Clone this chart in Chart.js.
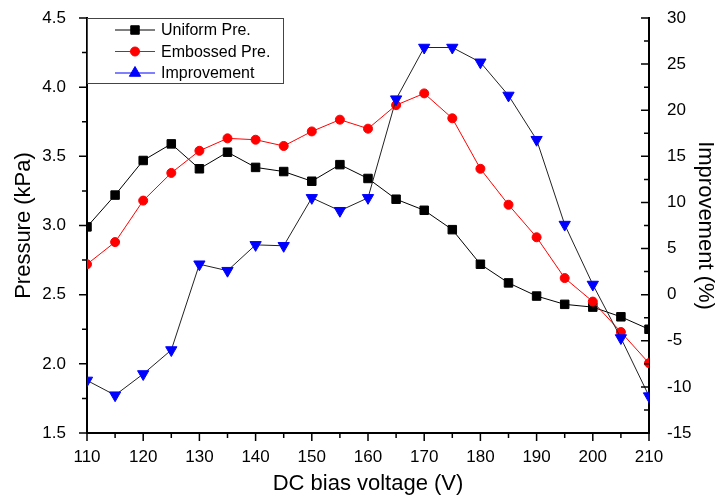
<!DOCTYPE html>
<html>
<head>
<meta charset="utf-8">
<script src="https://cdn.jsdelivr.net/npm/chart.js@4.4.1/dist/chart.umd.min.js"></script>
<style>
  body { margin: 0; background: #fff; }
</style>
</head>
<body>
<canvas id="chart" width="716" height="498"></canvas>
<script>
// ---- data ----
const voltages = [110, 115, 120, 125, 130, 135, 140, 145, 150, 155, 160,
                  165, 170, 175, 180, 185, 190, 195, 200, 205, 210];
const uniformPre = [2.99, 3.22, 3.47, 3.59, 3.41, 3.53, 3.42, 3.39, 3.32, 3.44, 3.34,
                    3.19, 3.11, 2.97, 2.72, 2.585, 2.49, 2.43, 2.41, 2.34, 2.25];
const embossedPre = [2.72, 2.88, 3.18, 3.38, 3.54, 3.63, 3.62, 3.575, 3.68, 3.765, 3.70,
                     3.87, 3.955, 3.775, 3.41, 3.15, 2.915, 2.62, 2.45, 2.23, 2.005];
const improvement = [-9.3, -10.9, -8.6, -6.0, 3.3, 2.6, 5.4, 5.3, 10.5, 9.1, 10.5,
                     21.2, 26.8, 26.8, 25.2, 21.6, 16.8, 7.6, 1.1, -4.7, -11.0];

const pairs = ys => voltages.map((v, i) => ({ x: v, y: ys[i] }));

// tick marks: long at labelled ticks, short in between
const tickMarks = {
  id: 'tickMarks',
  afterDraw(chart) {
    const ctx = chart.ctx;
    ctx.save();
    ctx.strokeStyle = '#000';
    ctx.lineWidth = 1.5;
    const { x, y, y1 } = chart.scales;
    ctx.beginPath();
    x.ticks.forEach(t => {
      const p = x.getPixelForValue(t.value);
      const len = t.label !== '' ? 8 : 5;
      ctx.moveTo(p, x.top); ctx.lineTo(p, x.top + len);
    });
    y.ticks.forEach(t => {
      const p = y.getPixelForValue(t.value);
      const len = t.label !== '' ? 8 : 5;
      ctx.moveTo(y.right, p); ctx.lineTo(y.right - len, p);
    });
    y1.ticks.forEach(t => {
      const p = y1.getPixelForValue(t.value);
      const len = t.label !== '' ? 8 : 5;
      ctx.moveTo(y1.left, p); ctx.lineTo(y1.left - len, p);
    });
    ctx.stroke();
    ctx.restore();
  }
};

// boxed legend in the top left corner of the plot
const boxLegend = {
  id: 'boxLegend',
  afterDraw(chart) {
    const ctx = chart.ctx;
    const area = chart.chartArea;
    const left = area.left, top = area.top;
    ctx.save();
    ctx.fillStyle = '#fff';
    ctx.fillRect(left, top, 196, 65);
    ctx.strokeStyle = '#444';
    ctx.lineWidth = 1;
    ctx.strokeRect(left + 0.5, top + 0.5, 196, 65);
    const items = [
      { ds: 0, style: 'rect', rot: 0 },
      { ds: 1, style: 'circle', rot: 0 },
      { ds: 2, style: 'triangle', rot: 0, line: '#0000ff' }
    ];
    items.forEach((it, i) => {
      const d = chart.data.datasets[it.ds];
      const cy = top + 12 + i * 21.5;
      ctx.strokeStyle = it.line || d.borderColor;
      ctx.lineWidth = 1;
      ctx.beginPath();
      ctx.moveTo(left + 28, cy); ctx.lineTo(left + 68, cy);
      ctx.stroke();
      ctx.fillStyle = d.pointBackgroundColor;
      ctx.strokeStyle = d.pointBorderColor;
      Chart.helpers.drawPoint(ctx, {
        pointStyle: it.style, radius: d.pointRadius, rotation: it.rot, borderWidth: 1
      }, left + 48, cy);
      ctx.fillStyle = '#000';
      ctx.font = '16px "Liberation Sans", Arial, sans-serif';
      ctx.textBaseline = 'middle';
      ctx.fillText(d.label, left + 74, cy + 1);
    });
    ctx.restore();
  }
};

const tickFont = { family: '"Liberation Sans", Arial, sans-serif', size: 17 };
const titleFont = { family: '"Liberation Sans", Arial, sans-serif', size: 22 };

new Chart(document.getElementById('chart'), {
  type: 'line',
  data: {
    datasets: [
      {
        label: 'Uniform Pre.',
        data: pairs(uniformPre),
        yAxisID: 'y',
        borderColor: '#000',
        borderWidth: 1,
        pointStyle: 'rect',
        pointRadius: 6,
        pointBackgroundColor: '#000',
        pointBorderColor: '#000',
        pointBorderWidth: 1,
        order: 3
      },
      {
        label: 'Embossed Pre.',
        data: pairs(embossedPre),
        yAxisID: 'y',
        borderColor: '#ff0000',
        borderWidth: 1,
        pointStyle: 'circle',
        pointRadius: 4.5,
        pointBackgroundColor: '#ff0000',
        pointBorderColor: '#ff0000',
        pointBorderWidth: 1,
        order: 2
      },
      {
        label: 'Improvement',
        data: pairs(improvement),
        yAxisID: 'y1',
        borderColor: '#222',
        borderWidth: 1,
        pointStyle: 'triangle',
        pointRotation: 180,
        pointRadius: 6.5,
        pointBackgroundColor: '#0000ff',
        pointBorderColor: '#0000ff',
        pointBorderWidth: 1,
        order: 1
      }
    ]
  },
  options: {
    responsive: false,
    animation: false,
    layout: { padding: { top: 18, left: 0, right: 0, bottom: 0 } },
    plugins: {
      legend: { display: false },
      tooltip: { enabled: false }
    },
    scales: {
      x: {
        type: 'linear',
        position: 'bottom',
        min: 110,
        max: 210,
        grid: { display: false },
        border: { display: true, color: '#000', width: 2 },
        ticks: {
          stepSize: 5,
          autoSkip: false,
          maxRotation: 0,
          padding: 6,
          color: '#000',
          font: tickFont,
          callback: v => (v % 10 === 0 ? String(v) : '')
        },
        title: {
          display: true,
          text: 'DC bias voltage (V)',
          color: '#000',
          font: titleFont,
          padding: { top: 0, bottom: 1 }
        },
        afterFit: s => { s.height = 65; s.paddingLeft = 0; s.paddingRight = 0; }
      },
      y: {
        position: 'left',
        min: 1.5,
        max: 4.5,
        grid: { display: false },
        border: { display: true, color: '#000', width: 2 },
        ticks: {
          stepSize: 0.25,
          autoSkip: false,
          padding: 13,
          color: '#000',
          font: tickFont,
          callback: v => (Math.abs(v * 2 - Math.round(v * 2)) < 1e-6 ? v.toFixed(1) : '')
        },
        title: {
          display: true,
          text: 'Pressure (kPa)',
          color: '#000',
          font: titleFont,
          padding: { top: 11, bottom: 0 }
        },
        afterFit: s => { s.width = 87; s.paddingTop = 0; s.paddingBottom = 0; }
      },
      y1: {
        position: 'right',
        min: -15,
        max: 30,
        grid: { display: false },
        border: { display: true, color: '#000', width: 2 },
        ticks: {
          stepSize: 2.5,
          autoSkip: false,
          padding: 10,
          color: '#000',
          font: tickFont,
          callback: v => (v % 5 === 0 ? String(v) : '')
        },
        title: {
          display: true,
          text: 'Improvement (%)',
          color: '#000',
          font: titleFont,
          padding: { top: -2, bottom: 0 }
        },
        afterFit: s => { s.width = 67; s.paddingTop = 0; s.paddingBottom = 0; }
      }
    }
  },
  plugins: [tickMarks, boxLegend]
});
</script>
</body>
</html>
